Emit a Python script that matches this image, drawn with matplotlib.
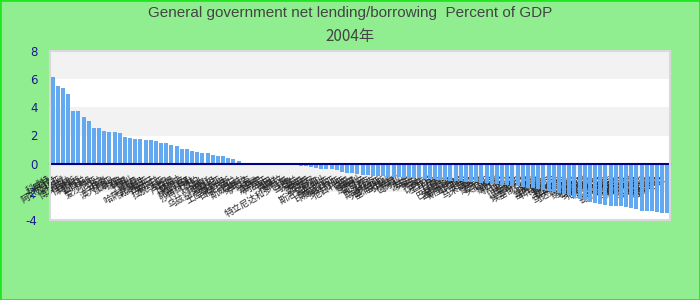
import matplotlib
matplotlib.use("Agg")
import matplotlib.pyplot as plt
from matplotlib.patches import Rectangle

plt.rcParams['font.family'] = ['Noto Sans CJK SC', 'DejaVu Sans']

TITLE = "General government net lending/borrowing  Percent of GDP"
SUBTITLE = "2004年"

pos_names = ["科威特", "卡塔尔", "阿尔及利亚", "挪威", "博茨瓦纳", "俄罗斯", "阿联酋", "新西兰",
             "伊朗", "爱沙尼亚", "芬兰", "丹麦", "澳大利亚", "加拿大", "瑞典", "韩国", "智利",
             "阿曼", "哈萨克斯坦", "保加利亚", "西班牙", "爱尔兰", "拉脱维亚", "冰岛", "卢森堡",
             "比利时", "新加坡", "阿塞拜疆", "巴林", "沙特阿拉伯", "瑞士", "阿根廷", "乌兹别克斯坦",
             "利比亚", "土库曼斯坦", "白俄罗斯", "荷兰", "斯威士兰", "安哥拉"]
zero_names = ["伊拉克", "缅甸", "索马里", "阿富汗", "古巴", "朝鲜", "东帝汶", "特立尼达和多巴哥"]
neg_names = ["秘鲁", "乌克兰", "泰国", "墨西哥", "立陶宛", "斯洛文尼亚", "奥地利", "哥伦比亚",
             "印度尼西亚", "罗马尼亚", "尼日利亚", "德国", "法国", "意大利", "葡萄牙", "捷克",
             "斯洛伐克", "克罗地亚", "塞浦路斯", "马耳他", "希腊", "匈牙利", "波兰", "英国", "美国",
             "日本", "以色列", "土耳其", "巴西", "印度", "巴基斯坦", "孟加拉国", "斯里兰卡", "菲律宾",
             "越南", "马来西亚", "埃及", "摩洛哥", "突尼斯", "约旦", "黎巴嫩", "叙利亚", "也门",
             "肯尼亚", "坦桑尼亚", "乌干达", "埃塞俄比亚", "加纳", "喀麦隆", "塞内加尔", "科特迪瓦",
             "赞比亚", "津巴布韦", "莫桑比克", "马达加斯加", "南非", "纳米比亚", "毛里求斯",
             "委内瑞拉", "厄瓜多尔", "玻利维亚", "巴拉圭", "乌拉圭", "哥斯达黎加", "巴拿马",
             "危地马拉", "洪都拉斯", "萨尔瓦多", "尼加拉瓜", "多米尼加", "牙买加", "格鲁吉亚", "亚美尼亚"]

pos_values = [6.15, 5.5, 5.37, 4.95, 3.74, 3.74, 3.31, 3.02, 2.52, 2.52, 2.31, 2.24, 2.24,
              2.17, 1.88, 1.81, 1.74, 1.74, 1.67, 1.67, 1.6, 1.44, 1.44, 1.3, 1.22, 1.01, 1.01,
              0.9, 0.83, 0.77, 0.77, 0.62, 0.55, 0.55, 0.4, 0.3, 0.22, 0.07, 0.07]
zero_values = [0, 0, 0, 0, 0, 0, 0, 0]
neg_values = [-0.1, -0.14, -0.14, -0.21, -0.31, -0.36, -0.4, -0.4, -0.45, -0.6, -0.67, -0.67,
              -0.71, -0.79, -0.83,
              -0.86, -0.88, -0.9, -0.93, -0.95, -0.98, -1.0, -1.0, -1.02, -1.05, -1.08, -1.1,
              -1.12, -1.15, -1.18, -1.2, -1.22, -1.25, -1.28, -1.3, -1.33,
              -1.36, -1.4, -1.43, -1.46, -1.5, -1.53, -1.57, -1.6, -1.65, -1.7, -1.74, -1.8,
              -1.86, -1.92, -2.0, -2.08, -2.16, -2.25, -2.35, -2.48, -2.6,
              -2.75, -2.79, -2.83, -2.9, -2.98, -3.02, -3.02, -3.07, -3.14, -3.21, -3.33,
              -3.38, -3.38, -3.45, -3.5, -3.52]

names = pos_names + zero_names + neg_names
values = pos_values + zero_values + neg_values
y_ticks = [-4, -2, 0, 2, 4, 6, 8]

fig = plt.figure(figsize=(7, 3), dpi=100, facecolor="#90ee90")
fig.patches.append(Rectangle((0, 0), 1, 1, transform=fig.transFigure, fill=False,
                             edgecolor="#22e622", lw=2))

ax = fig.add_axes([50 / 700, 80 / 300, 620 / 700, 169 / 300])
ax.set_facecolor("white")

# move x axis to zero first: set_position resets the ticks
for s in ["left", "right", "top"]:
    ax.spines[s].set_visible(False)
ax.spines["bottom"].set_position(("data", 0))
ax.spines["bottom"].set_color("#00008b")
ax.spines["bottom"].set_linewidth(1.5)
ax.spines["bottom"].set_zorder(3)

# alternating bands
for lo, hi in [(6, 8), (2, 4), (-2, 0)]:
    ax.axhspan(lo, hi, color="#f2f2f2", zorder=0, lw=0)

x = list(range(len(values)))
ax.bar(x, values, width=0.8, color="#63a9f1", zorder=2)

ax.set_xlim(-0.5, len(values) - 0.5)
ax.set_ylim(-4, 8)
ax.set_yticks(y_ticks)
ax.set_yticklabels([str(t) for t in y_ticks], family="DejaVu Sans", fontsize=8.5, color="#1a1a8c")
ax.tick_params(axis="y", length=0, pad=9)

ax.set_xticks(x)
ax.set_xticklabels(names, fontsize=6.5, color="#222222")
ax.tick_params(axis="x", length=0, pad=8, labelrotation=30)
for lab in ax.get_xticklabels():
    lab.set_ha("right")
    lab.set_zorder(5)

ax.add_patch(Rectangle((0, 0), 1, 1, transform=ax.transAxes, fill=False,
                       edgecolor="#d9d9d9", lw=1.5, clip_on=False, zorder=4))

fig.text(0.5, 1 - 13 / 300, TITLE, ha="center", va="center", fontsize=11, color="#444444",
         family=["Liberation Sans Narrow", "Liberation Sans", "DejaVu Sans"])
fig.text(0.5, 1 - 36 / 300, SUBTITLE, ha="center", va="center", fontsize=11, color="#444444",
         family=["Liberation Sans Narrow", "Noto Sans CJK SC", "DejaVu Sans"])

fig.savefig("out.png", dpi=100, facecolor=fig.get_facecolor())
